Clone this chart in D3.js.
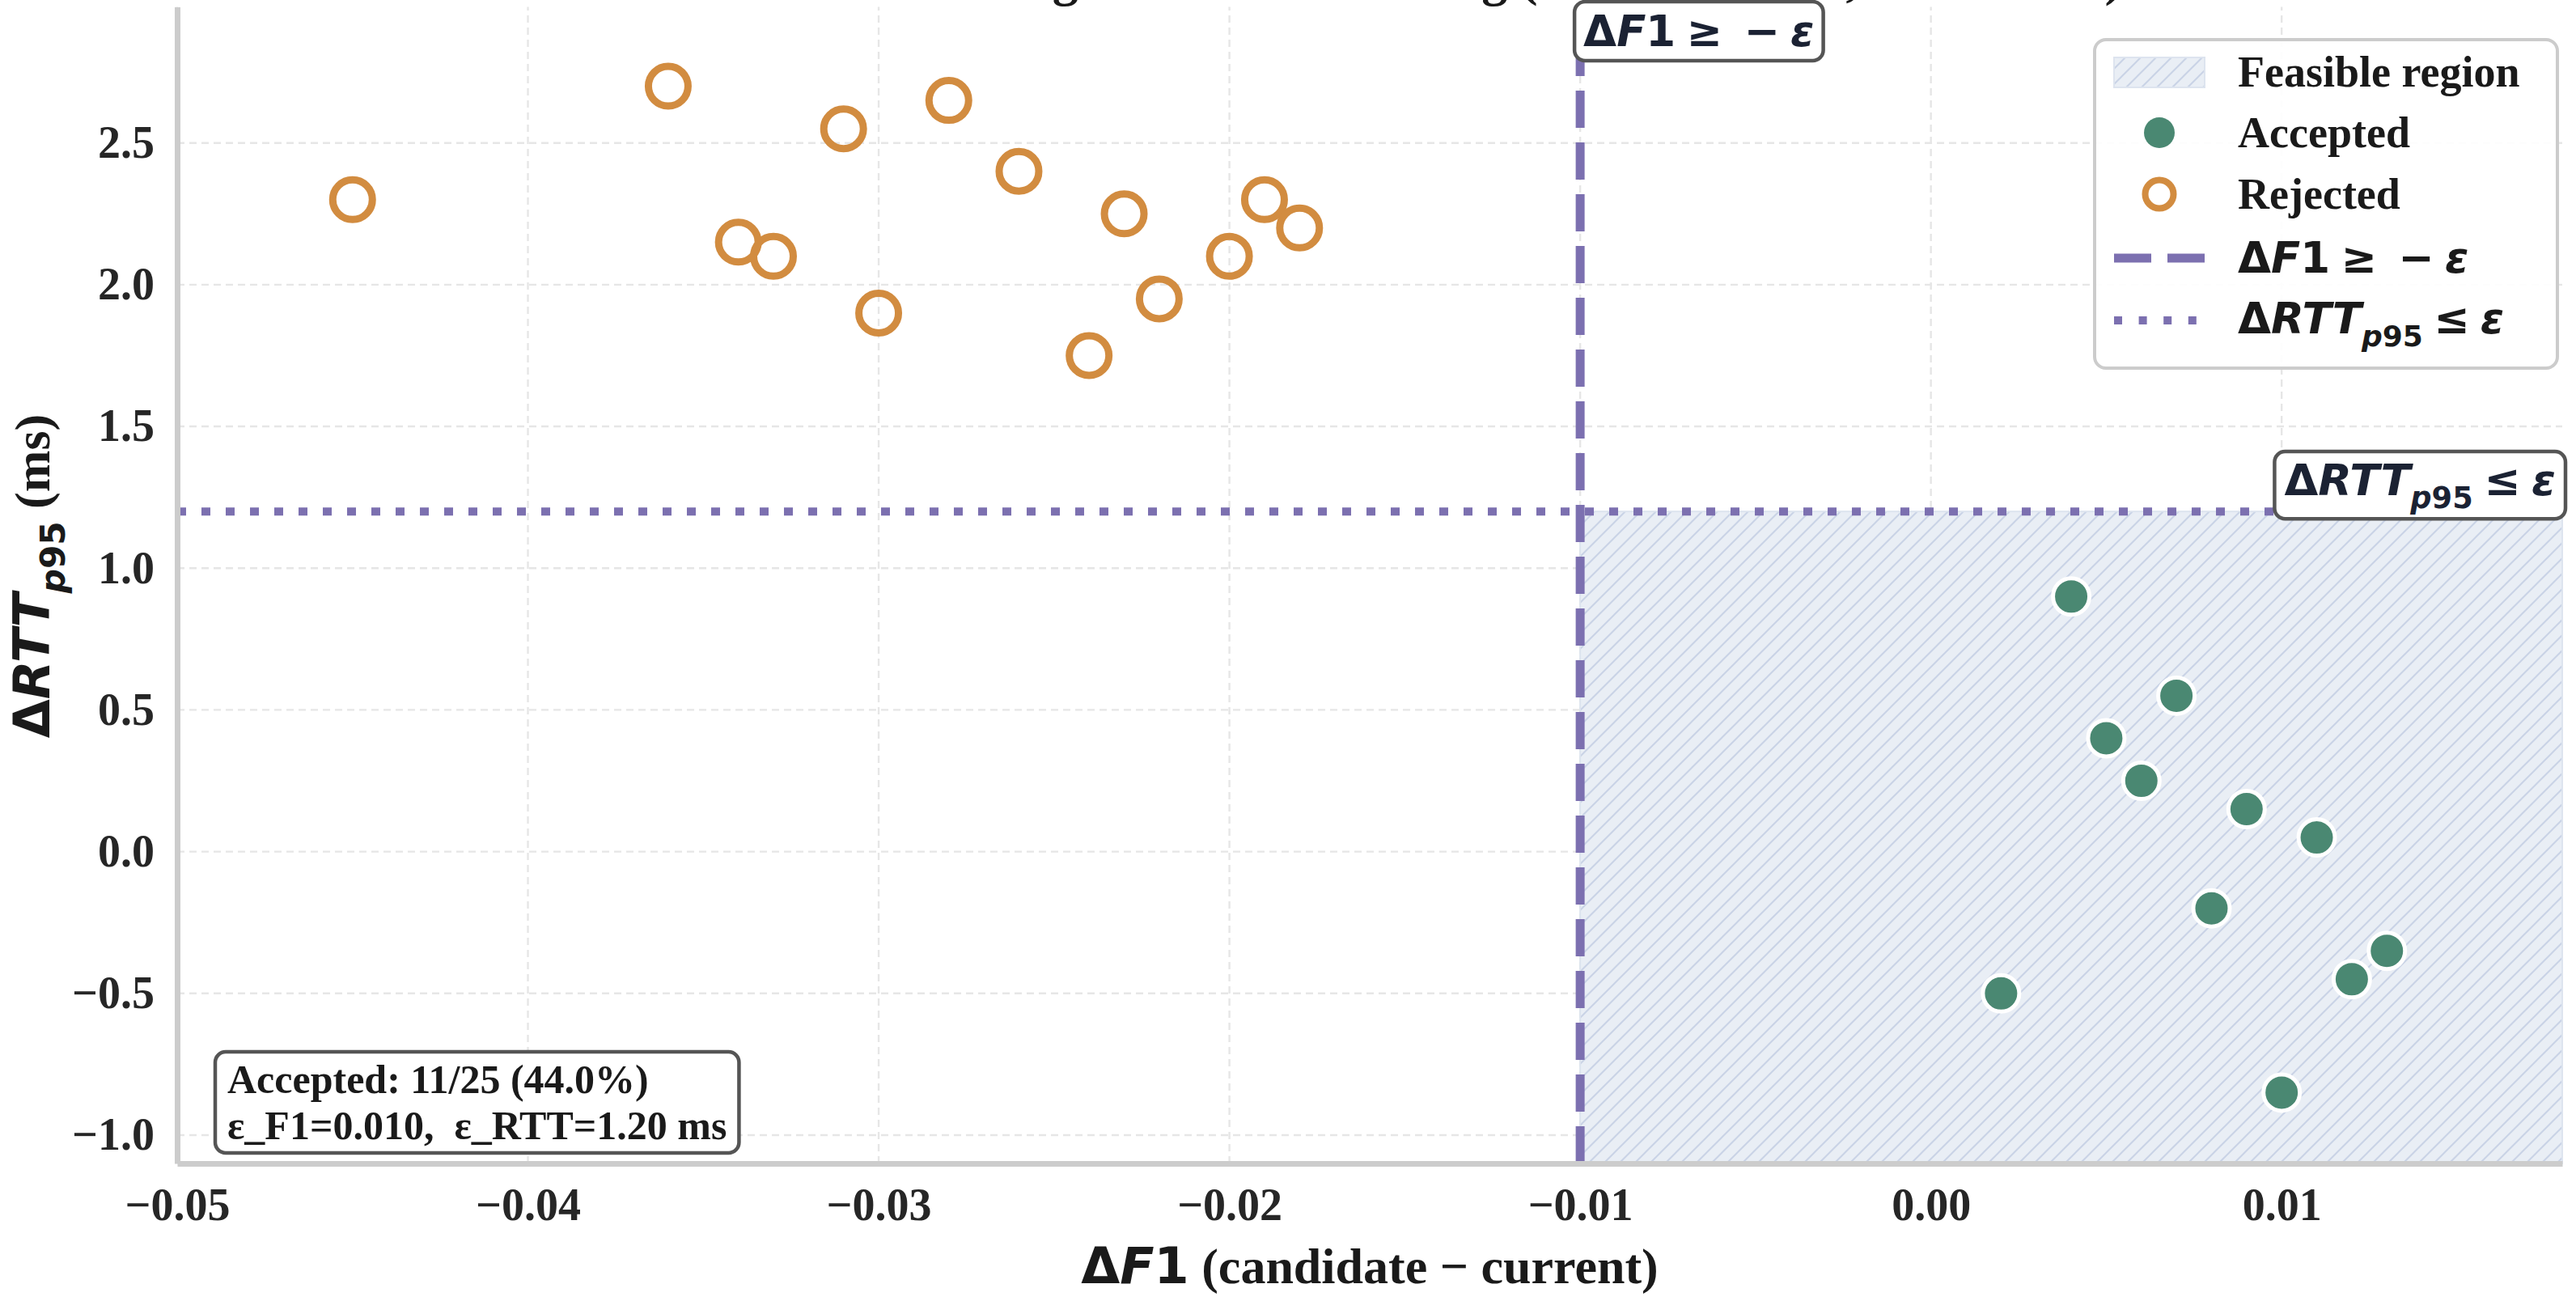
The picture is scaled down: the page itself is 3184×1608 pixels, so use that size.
<!DOCTYPE html>
<html>
<head>
<meta charset="utf-8">
<script src="https://cdn.jsdelivr.net/npm/d3@7"></script>
<style>
  body { margin: 0; background: #ffffff; }
  text { white-space: pre; }
</style>
</head>
<body>
<div id="chart"></div>
<script>
// data
var acceptedDF1  = [0.004, 0.007, 0.005, 0.006, 0.009, 0.011, 0.008, 0.013, 0.012, 0.002, 0.010];
var acceptedDRTT = [0.90, 0.55, 0.40, 0.25, 0.15, 0.05, -0.20, -0.35, -0.45, -0.50, -0.85];
var rejectedDF1  = [-0.045, -0.036, -0.034, -0.033, -0.031, -0.030, -0.028, -0.026, -0.024, -0.023, -0.022, -0.020, -0.019, -0.018];
var rejectedDRTT = [2.30, 2.70, 2.15, 2.10, 2.55, 1.90, 2.65, 2.40, 1.75, 2.25, 1.95, 2.10, 2.30, 2.20];
var xTicks = [-0.05, -0.04, -0.03, -0.02, -0.01, 0.00, 0.01];
var yTicks = [-1.0, -0.5, 0.0, 0.5, 1.0, 1.5, 2.0, 2.5];
var epsF1 = 0.010;
var epsRTT = 1.20;
var xDomain = [-0.05, 0.018];
var yDomain = [-1.1, 2.98];

// colours
var green = "#4a8872", orange = "#d28c40", purple = "#7c70b0", ink = "#1b2233";
var serif = "'Liberation Serif', 'Times New Roman', serif";
var mathFont = "'DejaVu Sans', sans-serif";

var width = 3184, height = 1608;
var margin = { top: 8.5, right: 17, bottom: 170, left: 219 };

var svg = d3.select("#chart").append("svg")
    .attr("width", width)
    .attr("height", height);

var x = d3.scaleLinear().domain(xDomain).range([margin.left, width - margin.right]);
var y = d3.scaleLinear().domain(yDomain).range([height - margin.bottom, margin.top]);

var defs = svg.append("defs");
var hatch = defs.append("pattern")
    .attr("id", "hatch")
    .attr("patternUnits", "userSpaceOnUse")
    .attr("width", 19).attr("height", 19);
hatch.append("rect").attr("width", 19).attr("height", 19).attr("fill", "#e9eef5");
hatch.append("path")
    .attr("d", "M0,19 L19,0 M-5,5 L5,-5 M14,24 L24,14")
    .attr("stroke", "#c9d3e6").attr("stroke-width", 2);

// grid
svg.append("g").selectAll("line").data(xTicks).enter().append("line")
    .attr("x1", function (d) { return x(d); }).attr("x2", function (d) { return x(d); })
    .attr("y1", y(yDomain[0])).attr("y2", y(yDomain[1]))
    .attr("stroke", "#e6e6e6").attr("stroke-width", 2.4).attr("stroke-dasharray", "9,6");
svg.append("g").selectAll("line").data(yTicks).enter().append("line")
    .attr("y1", function (d) { return y(d); }).attr("y2", function (d) { return y(d); })
    .attr("x1", x(xDomain[0])).attr("x2", x(xDomain[1]))
    .attr("stroke", "#e6e6e6").attr("stroke-width", 2.4).attr("stroke-dasharray", "9,6");

// feasible region
svg.append("rect")
    .attr("x", x(-epsF1)).attr("y", y(epsRTT))
    .attr("width", x(xDomain[1]) - x(-epsF1))
    .attr("height", y(yDomain[0]) - y(epsRTT))
    .attr("fill", "url(#hatch)")
    .attr("stroke", "#dde4ef").attr("stroke-width", 2);

// threshold lines
svg.append("line")
    .attr("x1", x(-epsF1)).attr("x2", x(-epsF1))
    .attr("y1", y(yDomain[0])).attr("y2", y(yDomain[1]))
    .attr("stroke", purple).attr("stroke-width", 11).attr("stroke-dasharray", "46,18");
svg.append("line")
    .attr("x1", x(xDomain[0])).attr("x2", x(xDomain[1]))
    .attr("y1", y(epsRTT)).attr("y2", y(epsRTT))
    .attr("stroke", purple).attr("stroke-width", 10).attr("stroke-dasharray", "11,19");

// points
svg.append("g").selectAll("circle").data(rejectedDF1).enter().append("circle")
    .attr("cx", function (d) { return x(d); })
    .attr("cy", function (d, i) { return y(rejectedDRTT[i]); })
    .attr("r", 24.5)
    .attr("fill", "none").attr("stroke", orange).attr("stroke-width", 9);
svg.append("g").selectAll("circle").data(acceptedDF1).enter().append("circle")
    .attr("cx", function (d) { return x(d); })
    .attr("cy", function (d, i) { return y(acceptedDRTT[i]); })
    .attr("r", 22.5)
    .attr("fill", green).attr("stroke", "#ffffff").attr("stroke-width", 5);

// axes
var xAxis = svg.append("g")
    .attr("transform", "translate(0," + y(yDomain[0]) + ")")
    .call(d3.axisBottom(x).tickValues(xTicks).tickSize(0).tickSizeOuter(0).tickPadding(30)
        .tickFormat(d3.format(".2f")));
var yAxis = svg.append("g")
    .attr("transform", "translate(" + x(xDomain[0]) + ",0)")
    .call(d3.axisLeft(y).tickValues(yTicks).tickSize(0).tickSizeOuter(0).tickPadding(28)
        .tickFormat(d3.format(".1f")));
[xAxis, yAxis].forEach(function (ax) {
    ax.select(".domain").attr("stroke", "#cccccc").attr("stroke-width", 7);
    ax.selectAll("text")
        .attr("font-family", serif).attr("font-weight", "bold")
        .attr("font-size", 56).attr("fill", "#262626");
});

// mixed math text: parts = [{t, i (italic), sub}]
function mathText(sel, parts, size) {
    var inSub = false;
    parts.forEach(function (p) {
        var ts = sel.append("tspan").text(p.t)
            .attr("font-family", p.serif ? serif : mathFont)
            .attr("font-style", p.i ? "italic" : "normal")
            .attr("font-size", p.sub ? size * 0.68 : size);
        if (p.sub && !inSub) ts.attr("dy", size * 0.3);
        if (!p.sub && inSub) ts.attr("dy", -size * 0.3);
        inSub = !!p.sub;
    });
    return sel;
}
var f1Parts = [{ t: "Δ" }, { t: "F", i: 1 }, { t: "1" }, { t: "\u2005≥\u2005\u2005−\u2005" }, { t: "ε", i: 1 }];
var rttParts = [{ t: "Δ" }, { t: "RTT", i: 1 }, { t: "p", i: 1, sub: 1 }, { t: "95", sub: 1 }, { t: "\u2005≤\u2005" }, { t: "ε", i: 1 }];

function boxed(textSel, padX, padY, stroke, sw) {
    var b = textSel.node().getBBox();
    textSel.node().parentNode.insertBefore(
        svg.append("rect")
            .attr("x", b.x - padX).attr("y", b.y - padY)
            .attr("width", b.width + 2 * padX).attr("height", b.height + 2 * padY)
            .attr("rx", 13).attr("fill", "#ffffff")
            .attr("stroke", stroke).attr("stroke-width", sw).node(),
        textSel.node());
}

// threshold labels
var f1Label = svg.append("text")
    .attr("x", x(-epsF1) + 4).attr("y", 57)
    .attr("font-weight", "bold").attr("fill", ink);
mathText(f1Label, f1Parts, 53);
boxed(f1Label, 11, 6, "#555555", 4.5);

var rttLabel = svg.append("text")
    .attr("x", x(xDomain[1]) - 8).attr("y", 612)
    .attr("text-anchor", "end")
    .attr("font-weight", "bold").attr("fill", ink);
mathText(rttLabel, rttParts, 54);
boxed(rttLabel, 12, 4, "#555555", 4.5);

// title (clipped at the top of the figure, as in the reference)
svg.append("text")
    .attr("x", (x(xDomain[0]) + x(xDomain[1])) / 2).attr("y", -6)
    .attr("text-anchor", "middle")
    .attr("font-family", serif).attr("font-weight", "bold").attr("font-size", 64)
    .attr("fill", "#1a1a1a")
    .text("Candidate Screening under Dual Gating (ΔF1 vs. ΔRTT, all 25 runs)");

// axis labels
var xLabel = svg.append("text")
    .attr("x", (x(xDomain[0]) + x(xDomain[1])) / 2).attr("y", 1586)
    .attr("text-anchor", "middle").attr("font-weight", "bold").attr("fill", "#1a1a1a");
mathText(xLabel, [{ t: "Δ" }, { t: "F", i: 1 }, { t: "1" }, { t: " (candidate − current)", serif: 1 }], 62);

var yLabel = svg.append("text")
    .attr("transform", "translate(61,712) rotate(-90)")
    .attr("text-anchor", "middle").attr("font-weight", "bold").attr("fill", "#1a1a1a");
mathText(yLabel, [{ t: "Δ" }, { t: "RTT", i: 1 }, { t: "p", i: 1, sub: 1 }, { t: "95", sub: 1 }, { t: " (ms)", serif: 1 }], 62);

// summary box
var nAcc = acceptedDF1.length, nAll = acceptedDF1.length + rejectedDF1.length;
var info = svg.append("text")
    .attr("x", 281).attr("y", 1351)
    .attr("font-family", serif).attr("font-weight", "bold").attr("font-size", 50)
    .attr("fill", "#1a1a1a");
info.append("tspan").attr("x", 281)
    .text("Accepted: " + nAcc + "/" + nAll + " (" + (100 * nAcc / nAll).toFixed(1) + "%)");
info.append("tspan").attr("x", 281).attr("dy", 57)
    .text("ε_F1=" + epsF1.toFixed(3) + ",  ε_RTT=" + epsRTT.toFixed(2) + " ms");
boxed(info, 15, 6, "#555555", 4.5);

// legend
var legend = svg.append("g");
legend.append("rect")
    .attr("x", 2589).attr("y", 49).attr("width", 572).attr("height", 406)
    .attr("rx", 14).attr("fill", "#ffffff").attr("fill-opacity", 0.92)
    .attr("stroke", "#cccccc").attr("stroke-width", 4);
var rowY = [89, 164, 240, 319, 396];
var markX = 2669, textX = 2766;
legend.append("rect")
    .attr("x", markX - 56).attr("y", rowY[0] - 18).attr("width", 112).attr("height", 37)
    .attr("fill", "url(#hatch)").attr("stroke", "#dde4ef").attr("stroke-width", 2);
legend.append("circle").attr("cx", markX).attr("cy", rowY[1]).attr("r", 19).attr("fill", green);
legend.append("circle").attr("cx", markX).attr("cy", rowY[2]).attr("r", 17.5)
    .attr("fill", "none").attr("stroke", orange).attr("stroke-width", 8);
legend.append("line").attr("x1", markX - 56).attr("x2", markX + 56)
    .attr("y1", rowY[3]).attr("y2", rowY[3])
    .attr("stroke", purple).attr("stroke-width", 11).attr("stroke-dasharray", "46,20");
legend.append("line").attr("x1", markX - 56).attr("x2", markX + 56)
    .attr("y1", rowY[4]).attr("y2", rowY[4])
    .attr("stroke", purple).attr("stroke-width", 10).attr("stroke-dasharray", "10,20.6");
["Feasible region", "Accepted", "Rejected"].forEach(function (s, i) {
    legend.append("text").attr("x", textX).attr("y", rowY[i] + 18)
        .attr("font-family", serif).attr("font-weight", "bold").attr("font-size", 54)
        .attr("fill", "#1a1a1a").text(s);
});
mathText(legend.append("text").attr("x", textX).attr("y", rowY[3] + 18)
    .attr("font-weight", "bold").attr("fill", "#1a1a1a"), f1Parts, 53);
mathText(legend.append("text").attr("x", textX).attr("y", rowY[4] + 16)
    .attr("font-weight", "bold").attr("fill", "#1a1a1a"), rttParts, 53);
</script>
</body>
</html>
